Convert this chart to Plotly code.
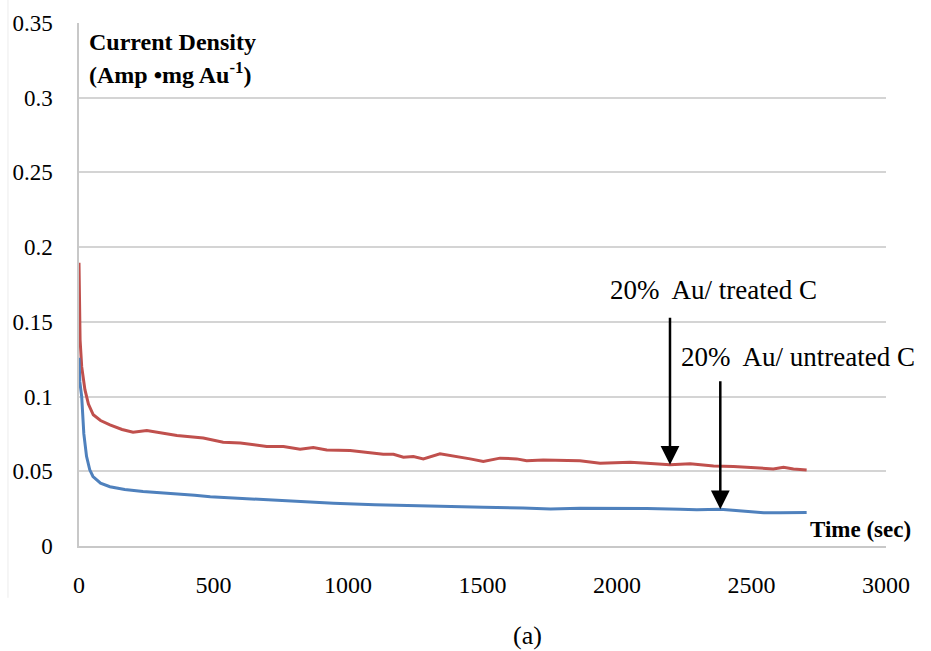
import numpy as np
import plotly.graph_objects as go

# Chronoamperometry: current density vs time
t_treated = [0, 2, 4, 10, 22, 35, 53, 80, 115, 160, 201, 252, 301, 364, 462, 536, 600,
             636, 698, 760, 822, 871, 921, 1008, 1045, 1131, 1169, 1206, 1243, 1280,
             1342, 1404, 1454, 1503, 1565, 1627, 1664, 1726, 1801, 1862, 1937, 2049,
             2111, 2197, 2272, 2359, 2433, 2520, 2581, 2619, 2656, 2705]
j_treated = [0.1895, 0.160, 0.138, 0.120, 0.1046, 0.095, 0.0878, 0.084, 0.081, 0.078,
             0.0762, 0.0773, 0.0759, 0.0739, 0.0722, 0.0695, 0.0690,
             0.0682, 0.0666, 0.0666, 0.0648, 0.0659, 0.0643, 0.0639, 0.0632, 0.0614,
             0.0614, 0.0594, 0.0599, 0.0583, 0.0617, 0.0599, 0.0583, 0.0565, 0.0588,
             0.0583, 0.0570, 0.0576, 0.0570, 0.0570, 0.0554, 0.0561, 0.0554, 0.0543,
             0.0550, 0.0536, 0.0532, 0.0521, 0.0516, 0.0527, 0.0516, 0.0509]

t_untreated = [0, 3, 10, 18, 28, 40, 52, 80, 115, 170, 238, 300, 365, 430, 488, 570,
               636, 674, 800, 946, 1100, 1258, 1400, 1504, 1650, 1753, 1862, 1986,
               2111, 2235, 2297, 2384, 2483, 2545, 2607, 2705]
j_untreated = [0.126, 0.110, 0.100, 0.075, 0.060, 0.051, 0.0465, 0.042, 0.0397, 0.0378,
               0.0364, 0.0357, 0.0349, 0.0340, 0.0330, 0.0322, 0.0315, 0.0313, 0.0300,
               0.0286, 0.0276, 0.0268, 0.0263, 0.0259, 0.0254, 0.0248, 0.0253, 0.0253,
               0.0251, 0.0246, 0.0243, 0.0246, 0.0233, 0.0223, 0.0223, 0.0225]

x_ticks = [0, 500, 1000, 1500, 2000, 2500, 3000]
y_ticks = [0, 0.05, 0.1, 0.15, 0.2, 0.25, 0.3, 0.35]
y_tick_text = ["0", "0.05", "0.1", "0.15", "0.2", "0.25", "0.3", "0.35"]

label_treated = "20%  Au/ treated C"
label_untreated = "20%  Au/ untreated C"
arrow_t_treated = 2197
arrow_t_untreated = 2384

SERIF = "Liberation Serif"
RED = "#C0504D"
BLUE = "#4F81BD"

fig = go.Figure()
fig.add_trace(go.Scatter(x=t_treated, y=j_treated, mode="lines",
                         line=dict(color=RED, width=3), name=label_treated))
fig.add_trace(go.Scatter(x=t_untreated, y=j_untreated, mode="lines",
                         line=dict(color=BLUE, width=3), name=label_untreated))

# arrow tips sit on the curves
tip_treated = float(np.interp(arrow_t_treated, t_treated, j_treated))
tip_untreated = float(np.interp(arrow_t_untreated, t_untreated, j_untreated))

arrow_style = dict(showarrow=True, arrowhead=2, arrowsize=1.5, arrowwidth=2.5,
                   arrowcolor="black", axref="x", ayref="y", xref="x", yref="y", text="")
fig.add_annotation(x=arrow_t_treated, y=tip_treated, ax=arrow_t_treated, ay=0.1537, **arrow_style)
fig.add_annotation(x=arrow_t_untreated, y=tip_untreated, ax=arrow_t_untreated, ay=0.1113, **arrow_style)

fig.add_annotation(x=1966, y=0.1716, xref="x", yref="y", text=label_treated, showarrow=False,
                   xanchor="left", yanchor="middle", font=dict(family=SERIF, size=27, color="black"))
fig.add_annotation(x=2230, y=0.1267, xref="x", yref="y", text=label_untreated, showarrow=False,
                   xanchor="left", yanchor="middle", font=dict(family=SERIF, size=27, color="black"))

# axis titles placed inside the plot area
fig.add_annotation(x=0.0099, y=0.9637, xref="paper", yref="paper", text="<b>Current Density</b>",
                   showarrow=False, xanchor="left", yanchor="middle",
                   font=dict(family=SERIF, size=24, color="black"))
fig.add_annotation(x=0.0099, y=0.9044, xref="paper", yref="paper",
                   text="<b>(Amp \u2022mg Au<sup>-1</sup>)</b>",
                   showarrow=False, xanchor="left", yanchor="middle",
                   font=dict(family=SERIF, size=24, color="black"))
fig.add_annotation(x=1.033, y=0.0306, xref="paper", yref="paper", text="<b>Time (sec)</b>",
                   showarrow=False, xanchor="right", yanchor="middle",
                   font=dict(family=SERIF, size=23, color="black"))

# panel caption
fig.add_annotation(x=0.5558, y=-0.172, xref="paper", yref="paper", text="(a)",
                   showarrow=False, xanchor="center", yanchor="middle",
                   font=dict(family=SERIF, size=26, color="black"))

# faint chart-area border on the left
fig.add_shape(type="line", xref="paper", yref="paper", x0=-0.0880, x1=-0.0880, y0=1.044, y1=-0.099,
              line=dict(color="#ececec", width=1))

fig.update_xaxes(range=[0, 3000], tickvals=x_ticks, ticktext=[str(v) for v in x_ticks],
                 showgrid=False, zeroline=False, showline=True, linecolor="#c8c8c8", linewidth=1.5,
                 ticks="", ticklabelstandoff=16,
                 tickfont=dict(family=SERIF, size=24, color="black"))
fig.update_yaxes(range=[0, 0.35], tickvals=y_ticks, ticktext=y_tick_text,
                 showgrid=True, gridcolor="#d4d4d4", gridwidth=1.5, zeroline=False,
                 showline=True, linecolor="#c8c8c8", linewidth=1.5, ticks="",
                 ticklabelstandoff=20,
                 tickfont=dict(family=SERIF, size=23, color="black"))

fig.update_layout(width=931, height=651, margin=dict(l=79, r=45, t=23, b=105),
                  paper_bgcolor="white", plot_bgcolor="white", showlegend=False)

fig.write_html("out.html")
